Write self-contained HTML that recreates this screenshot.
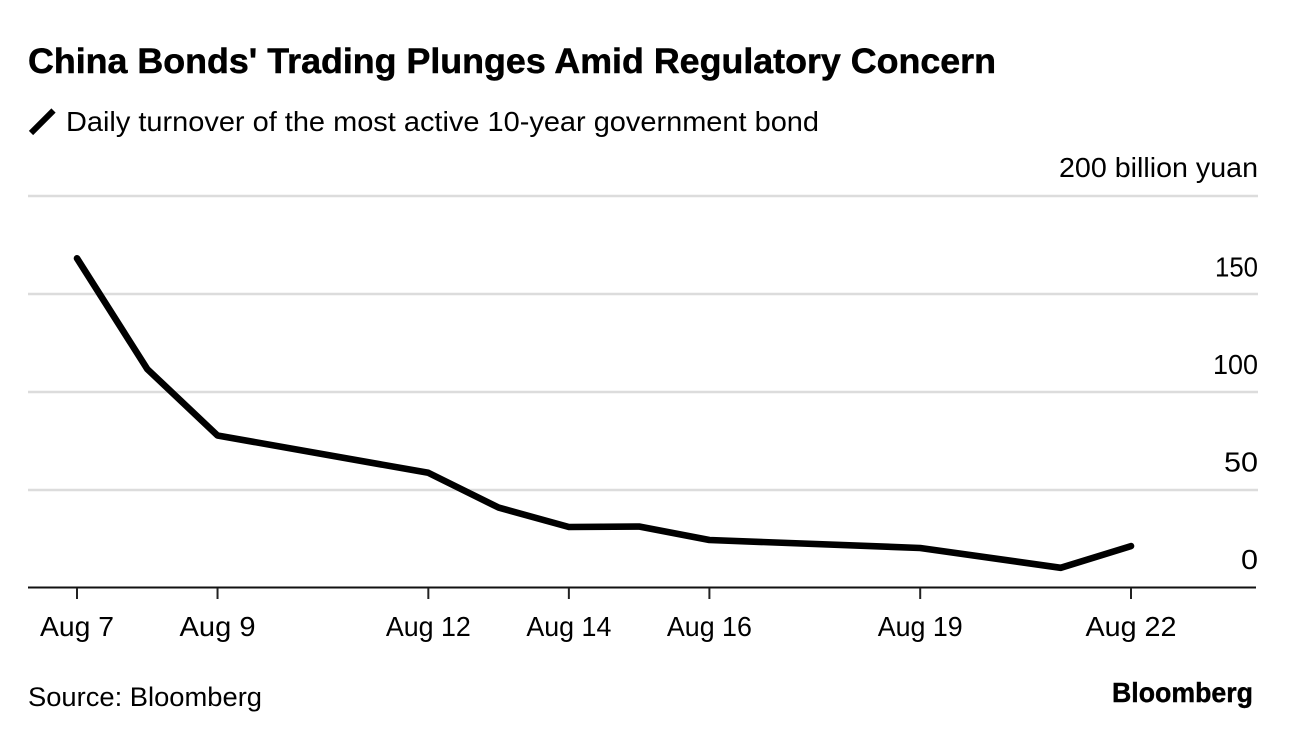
<!DOCTYPE html>
<html>
<head>
<meta charset="utf-8">
<style>
html,body{margin:0;padding:0;background:#fff;width:1292px;height:738px;overflow:hidden}
svg{display:block}
text{font-family:"Liberation Sans",sans-serif;fill:#000}
</style>
</head>
<body>
<svg id="chart" width="1292" height="738" viewBox="0 0 1292 738" xmlns="http://www.w3.org/2000/svg">
<rect width="1292" height="738" fill="#fff"/>
<text x="28" y="73" font-size="35" font-weight="700" stroke="#000" stroke-width="0.5" textLength="968" lengthAdjust="spacingAndGlyphs">China Bonds' Trading Plunges Amid Regulatory Concern</text>
<line x1="31" y1="133" x2="53.5" y2="110.5" stroke="#000" stroke-width="6" stroke-linecap="butt"/>
<text x="66" y="131" font-size="27.5" textLength="753" lengthAdjust="spacingAndGlyphs">Daily turnover of the most active 10-year government bond</text>
<g id="grid"></g>
<g id="xaxis"></g>
<path id="series" fill="none" stroke="#000" stroke-width="6.6" stroke-linejoin="round" stroke-linecap="round"/>
<text x="28" y="706" font-size="27" textLength="234" lengthAdjust="spacingAndGlyphs">Source: Bloomberg</text>
<text x="1253" y="702" font-size="28" font-weight="700" stroke="#000" stroke-width="0.4" text-anchor="end" textLength="141" lengthAdjust="spacingAndGlyphs">Bloomberg</text>
</svg>
<script>
var dayIndex = [0, 1, 2, 5, 6, 7, 8, 9, 12, 14, 15];
var turnover = [168.2, 111.7, 77.8, 58.8, 41, 31.1, 31.4, 24.5, 20.4, 10.3, 21.4];
var tickDays = [0, 2, 5, 7, 9, 12, 15];
var tickLabels = ["Aug 7", "Aug 9", "Aug 12", "Aug 14", "Aug 16", "Aug 19", "Aug 22"];
var yTicks = [0, 50, 100, 150, 200];
var yTickLabels = ["0", "50", "100", "150", "200 billion yuan"];

var NS = "http://www.w3.org/2000/svg";
var labelFit = {
  "0": 17, "50": 34, "100": 45, "150": 43, "200 billion yuan": 199,
  "Aug 7": 74, "Aug 9": 76, "Aug 12": 85, "Aug 14": 85, "Aug 16": 85, "Aug 19": 85, "Aug 22": 91
};
function fitText(t, label) {
  if (labelFit[label]) {
    t.setAttribute("textLength", labelFit[label]);
    t.setAttribute("lengthAdjust", "spacingAndGlyphs");
  }
}
function xScale(d) { return 77 + d * (1131 - 77) / 15; }
function yScale(v) { return 588 - v * (588 - 196) / 200; }
function yLabelPos(v) { return v >= 200 ? yScale(v) - 19 : 569 - v * 1.95; }

var grid = document.getElementById("grid");
yTicks.forEach(function (v, i) {
  if (v !== 0) {
    var l = document.createElementNS(NS, "line");
    
    
    l.setAttribute("x1", 28);
    l.setAttribute("x2", 1258);
    l.setAttribute("y1", yScale(v));
    l.setAttribute("y2", yScale(v));
    l.setAttribute("stroke", "#dcdcdc");
    l.setAttribute("stroke-width", 2.5);
    grid.appendChild(l);
  }
  var t = document.createElementNS(NS, "text");
  
  
  t.setAttribute("x", 1258);
  t.setAttribute("y", yLabelPos(v));
  t.setAttribute("font-size", 28);
  t.setAttribute("text-anchor", "end");
  fitText(t, yTickLabels[i]);
  t.textContent = yTickLabels[i];
  grid.appendChild(t);
});

var xaxis = document.getElementById("xaxis");
var base = document.createElementNS(NS, "line");


base.setAttribute("x1", 28);
base.setAttribute("x2", 1256);
base.setAttribute("y1", yScale(0) - 0.5);
base.setAttribute("y2", yScale(0) - 0.5);
base.setAttribute("stroke", "#111");
base.setAttribute("stroke-width", 2);
xaxis.appendChild(base);
tickDays.forEach(function (d, i) {
  var tick = document.createElementNS(NS, "line");
  
  
  tick.setAttribute("x1", xScale(d));
  tick.setAttribute("x2", xScale(d));
  tick.setAttribute("y1", yScale(0));
  tick.setAttribute("y2", yScale(0) + 11);
  tick.setAttribute("stroke", "#222");
  tick.setAttribute("stroke-width", 2);
  xaxis.appendChild(tick);
  var t = document.createElementNS(NS, "text");
  
  
  t.setAttribute("x", xScale(d));
  t.setAttribute("y", 636);
  t.setAttribute("font-size", 28);
  t.setAttribute("text-anchor", "middle");
  fitText(t, tickLabels[i]);
  t.textContent = tickLabels[i];
  xaxis.appendChild(t);
});

var path = dayIndex.map(function (d, i) {
  return (i ? "L" : "M") + xScale(d).toFixed(1) + " " + yScale(turnover[i]).toFixed(1);
}).join(" ");
document.getElementById("series").setAttribute("d", path);
</script>
</body>
</html>
